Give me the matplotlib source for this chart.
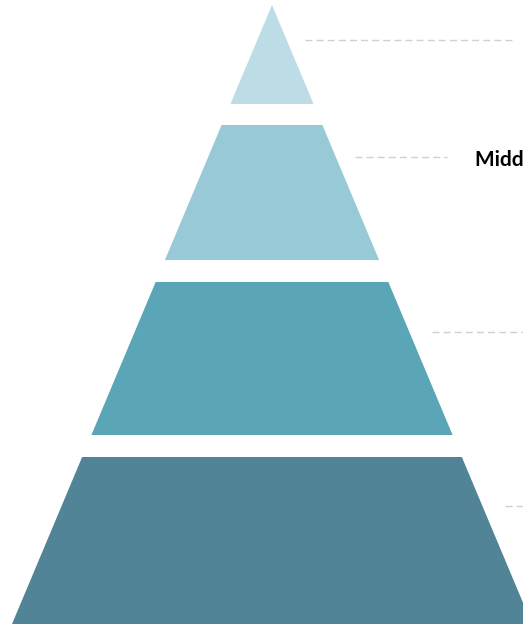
import matplotlib
matplotlib.use("Agg")
import matplotlib.pyplot as plt
from matplotlib.patches import Polygon

# Pyramid tiers (top to bottom)
tiers = ["Top Management", "Middle Management", "Lower Management", "Workers"]
tier_top = [5, 125, 282, 457]       # y of tier top (pixel space, apex at first)
tier_bottom = [104, 260, 435, 624]  # y of tier bottom
tier_colors = ["#bcdde6", "#97cad6", "#5aa5b6", "#508496"]
# Leader lines (y, x start, x end)
leader_y = [40, 157, 332, 506]
leader_x0 = [305, 355, 432, 505]
leader_x1 = [512, 447, 530, 530]
label_shown = [None, "Middle Management", None, None]

apex_x, apex_y = 272, 5
slope = 0.42

fig = plt.figure(figsize=(5.23, 6.24), dpi=100)
ax = fig.add_axes([0, 0, 1, 1])
ax.set_xlim(0, 523)
ax.set_ylim(624, 0)
ax.axis("off")

for t, b, c in zip(tier_top, tier_bottom, tier_colors):
    ht = (t - apex_y) * slope
    hb = (b - apex_y) * slope
    poly = Polygon([(apex_x - ht, t), (apex_x + ht, t), (apex_x + hb, b), (apex_x - hb, b)],
                   closed=True, facecolor=c, edgecolor="none")
    ax.add_patch(poly)

for y, x0, x1, lab in zip(leader_y, leader_x0, leader_x1, label_shown):
    ax.plot([x0, x1], [y, y], color="#d0d0d0", lw=1.0, ls=(0, (5, 3)))
    if lab:
        ax.text(475, y + 3, lab, fontsize=15, fontweight="bold", family="Lato",
                color="black", va="center", ha="left")

fig.savefig("out.png", dpi=100)
